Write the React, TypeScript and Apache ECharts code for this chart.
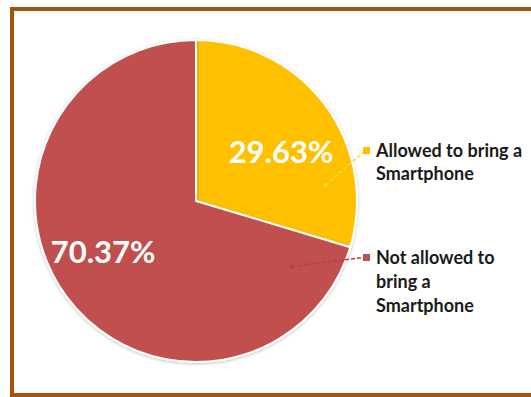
import React, { useEffect, useRef } from "react";
import * as echarts from "echarts";

const categories = ["Allowed to bring a Smartphone", "Not allowed to bring a Smartphone"];
const values = [29.63, 70.37];
const labelLines = [["Allowed to bring a", "Smartphone"], ["Not allowed to", "bring a", "Smartphone"]];
const colors = ["#FFC000", "#C0504D"];

export default function App() {
  const ref = useRef<HTMLDivElement>(null);
  useEffect(() => {
    document.body.style.margin = "0";
    const chart = echarts.init(ref.current!, null, { renderer: "svg" });
    const cx = 196, cy = 201, R = 161;
    const dots = [
      { ang: 83, rf: 0.81, sq: [366, 150] },
      { ang: 124.5, rf: 0.72, sq: [366, 257] },
    ];
    const graphics: any[] = [
      {
        type: "rect",
        shape: { x: 12, y: 9, width: 540, height: 386 },
        style: { fill: "none", stroke: "#A5540F", lineWidth: 4 },
        z: 10,
      },
    ];
    dots.forEach((d, i) => {
      const a = (d.ang * Math.PI) / 180;
      const px = cx + R * d.rf * Math.sin(a);
      const py = cy - R * d.rf * Math.cos(a);
      const c = i === 0 ? "#FFD83A" : "#A8453F";
      graphics.push({
        type: "line",
        shape: { x1: px, y1: py, x2: d.sq[0], y2: d.sq[1] },
        style: { stroke: c, lineWidth: 1.5, lineDash: [4, 2] },
        z: 20,
      });
      graphics.push({ type: "circle", shape: { cx: px, cy: py, r: 2 }, style: { fill: c }, z: 20 });
      graphics.push({
        type: "rect",
        shape: { x: d.sq[0] - 3, y: d.sq[1] - 3, width: 7, height: 7 },
        style: { fill: i === 0 ? "#FFC000" : "#C0504D" },
        z: 20,
      });
      const lh = i === 0 ? 23 : 24;
      graphics.push({
        type: "text",
        x: 376,
        y: d.sq[1] - lh / 2,
        style: {
          text: labelLines[i].join("\n"),
          fill: "#1a1a1a",
          font: "bold 18px Lato, sans-serif",
          lineHeight: lh,
        },
        z: 20,
      });
    });
    chart.setOption({
      animation: false,
      graphic: graphics,
      series: [
        {
          type: "pie",
          center: [cx, cy],
          radius: R,
          startAngle: 90,
          clockwise: true,
          data: categories.map((name, i) => ({
            name,
            value: values[i],
            itemStyle: { color: colors[i] },
            label: i === 1 ? { padding: [0, 52, 0, 0] } : { padding: [4, 0, 0, 36] },
          })),
          itemStyle: {
            borderColor: "#ffffff",
            borderWidth: 2,
            shadowBlur: 3,
            shadowColor: "rgba(0,0,0,0.25)",
            shadowOffsetY: 1,
          },
          label: {
            position: "inside",
            formatter: (p: any) => values[p.dataIndex].toFixed(2) + "%",
            color: "#ffffff",
            fontSize: 31,
            fontWeight: "bold",
            fontFamily: "Lato, sans-serif",
          },
          labelLine: { show: false },
        },
      ],
    });
    return () => chart.dispose();
  }, []);
  return <div ref={ref} style={{ width: 531, height: 397 }} />;
}
